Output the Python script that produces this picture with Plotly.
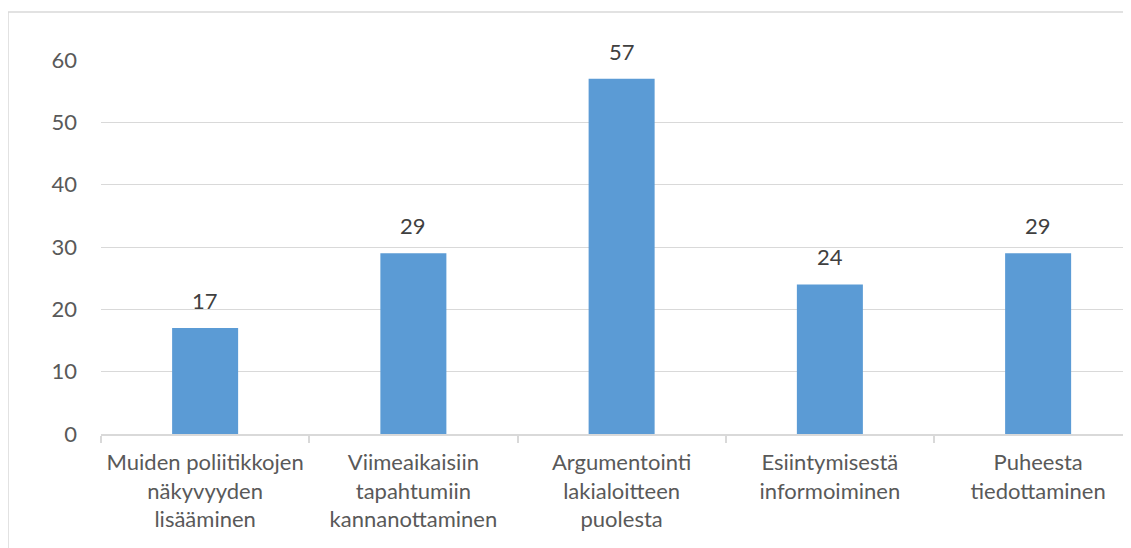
import plotly.graph_objects as go

categories = ["Muiden poliitikkojen näkyvyyden lisääminen",
              "Viimeaikaisiin tapahtumiin kannanottaminen",
              "Argumentointi lakialoitteen puolesta",
              "Esiintymisestä informoiminen",
              "Puheesta tiedottaminen"]
tick_labels = ["Muiden poliitikkojen<br>näkyvyyden<br>lisääminen",
               "Viimeaikaisiin<br>tapahtumiin<br>kannanottaminen",
               "Argumentointi<br>lakialoitteen<br>puolesta",
               "Esiintymisestä<br>informoiminen",
               "Puheesta<br>tiedottaminen"]
values = [17, 29, 57, 24, 29]
y_ticks = [0, 10, 20, 30, 40, 50, 60]

FONT = "Lato"
FS = 22
fig = go.Figure()
fig.add_trace(go.Bar(x=categories, y=values, marker_color="#5B9BD5",
                     marker_line_width=0, width=0.317))

for c, v in zip(categories, values):
    fig.add_annotation(x=c, y=v, text=str(v), showarrow=False, yanchor="bottom",
                       yshift=12, font=dict(family=FONT, size=FS, color="#404040"))

# page body has an 8px margin; compensate so the plot lands where the reference has it
OFF = 8
W, H = 1131, 548
L, T = 101 - OFF, 60 - OFF
B = (H + OFF) - 434
R = 0
pw, ph = W - L - R, H - T - B
bx = (8 - OFF - L) / pw
by = 1 + (T - (12 - OFF)) / ph
fig.add_shape(type="line", xref="paper", yref="paper", x0=bx, x1=bx, y0=-2, y1=by,
              line=dict(color="#D9D9D9", width=1.5))
fig.add_shape(type="line", xref="paper", yref="paper", x0=bx, x1=2, y0=by, y1=by,
              line=dict(color="#D9D9D9", width=1.5))

n = len(categories)
fig.update_layout(
    width=W, height=H, margin=dict(l=L, r=R, t=T, b=B),
    paper_bgcolor="white", plot_bgcolor="white", showlegend=False,
    font=dict(family=FONT, size=FS, color="#595959"),
)
fig.update_xaxes(type="category", range=[-0.5, -0.5 + pw / 208.25],
                 tickmode="array", tickvals=categories, ticktext=tick_labels,
                 showline=True, linecolor="#D9D9D9", linewidth=1.5,
                 ticks="outside", tickson="boundaries", ticklen=7, tickcolor="#D9D9D9",
                 tickwidth=1.5, showgrid=False, ticklabelstandoff=8,
                 tickfont=dict(family=FONT, size=FS, color="#595959"))
fig.update_yaxes(range=[0, 60], tickvals=y_ticks, showgrid=True, gridcolor="#D9D9D9",
                 gridwidth=1.2, zeroline=False, showline=False, ticks="",
                 ticklabelstandoff=23, tickfont=dict(family=FONT, size=FS, color="#595959"))
fig.update_traces(cliponaxis=False)
fig.write_html("out.html")
